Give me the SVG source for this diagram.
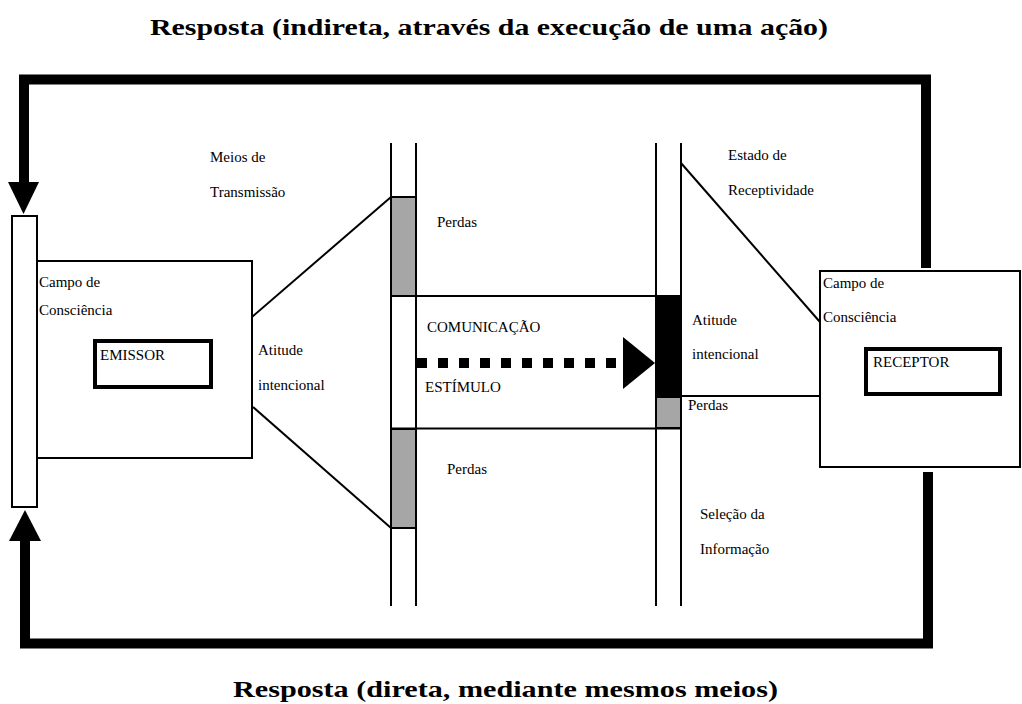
<svg xmlns="http://www.w3.org/2000/svg" width="1022" height="704" viewBox="0 0 1022 704">
<style>
.t{font-family:"Liberation Serif","DejaVu Serif",serif;font-size:15px;fill:#000}
.ti{font-family:"Liberation Serif","DejaVu Serif",serif;font-size:23px;font-weight:bold;fill:#000}
.ln{stroke:#000;stroke-width:2;fill:none}
.box{stroke:#000;stroke-width:2;fill:#fff}
.thick{stroke:#000;stroke-width:10;fill:none}
.gray{fill:#a6a6a6;stroke:#000;stroke-width:2}
</style>
<rect width="1022" height="704" fill="#fff"/>
<text class="ti" x="150" y="35" textLength="678" lengthAdjust="spacingAndGlyphs">Resposta (indireta, através da execução de uma ação)</text>
<text class="ti" x="233" y="697" textLength="545" lengthAdjust="spacingAndGlyphs">Resposta (direta, mediante mesmos meios)</text>

<g id="connectors">
<path class="thick" d="M926 268 V79.5 H24 V184"/>
<polygon points="8,182 39,182 23.5,214" fill="#000"/>
<path class="thick" d="M928 472 V643.5 H25 V538"/>
<polygon points="9,541 41,541 25,510" fill="#000"/>
<line class="ln" x1="252" y1="317" x2="391" y2="197"/>
<line class="ln" x1="253" y1="407" x2="391" y2="528"/>
<line class="ln" x1="681" y1="163" x2="820" y2="322"/>
<line class="ln" x1="681" y1="396" x2="820" y2="396"/>
<line x1="213" y1="363" x2="236" y2="363" stroke="#000" stroke-width="5"/>
<polygon points="233,350 249,363 233,376" fill="#000"/>
<line x1="823" y1="370" x2="847" y2="370" stroke="#000" stroke-width="5"/>
<polygon points="845,358 862,370.5 845,383" fill="#000"/>
<line x1="417" y1="363" x2="620" y2="363" stroke="#000" stroke-width="10" stroke-dasharray="10 11"/>
<polygon points="623,337 655,363 623,389" fill="#000"/>
</g>

<g id="channel">
<line class="ln" x1="391" y1="143" x2="391" y2="606"/>
<line class="ln" x1="416" y1="143" x2="416" y2="606"/>
<line class="ln" x1="656" y1="143" x2="656" y2="606"/>
<line class="ln" x1="681" y1="143" x2="681" y2="606"/>
<rect class="gray" x="391" y="197" width="25" height="99"/>
<rect class="gray" x="391" y="429" width="25" height="99"/>
<rect x="656" y="296" width="25" height="101" fill="#000" stroke="#000" stroke-width="2"/>
<rect class="gray" x="656" y="397" width="25" height="31"/>
<line class="ln" x1="391" y1="296" x2="681" y2="296"/>
<line class="ln" x1="391" y1="428.5" x2="681" y2="428.5"/>
</g>

<g id="emissor-side">
<rect class="box" x="12" y="216" width="25" height="291"/>
<rect class="box" x="37" y="261" width="215" height="197"/>
<text class="t" x="39" y="287">Campo de</text>
<text class="t" x="39" y="315">Consciência</text>
<rect x="95" y="341" width="116" height="46" fill="#fff" stroke="#000" stroke-width="4"/>
<text class="t" x="100" y="360">EMISSOR</text>
</g>

<g id="receptor-side">
<rect class="box" x="820" y="271" width="200" height="196"/>
<text class="t" x="823" y="288">Campo de</text>
<text class="t" x="823" y="322">Consciência</text>
<rect x="866" y="349" width="134" height="45" fill="#fff" stroke="#000" stroke-width="4"/>
<text class="t" x="873" y="367">RECEPTOR</text>
</g>

<g id="labels">
<text class="t" x="210" y="162">Meios de</text>
<text class="t" x="210" y="197">Transmissão</text>
<text class="t" x="258" y="355">Atitude</text>
<text class="t" x="258" y="390">intencional</text>
<text class="t" x="437" y="227">Perdas</text>
<text class="t" x="427" y="332">COMUNICAÇÃO</text>
<text class="t" x="425" y="392">ESTÍMULO</text>
<text class="t" x="447" y="474">Perdas</text>
<text class="t" x="728" y="160">Estado de</text>
<text class="t" x="728" y="195">Receptividade</text>
<text class="t" x="692" y="325">Atitude</text>
<text class="t" x="692" y="359">intencional</text>
<text class="t" x="688" y="410">Perdas</text>
<text class="t" x="700" y="519">Seleção da</text>
<text class="t" x="700" y="554">Informação</text>
</g>
</svg>
